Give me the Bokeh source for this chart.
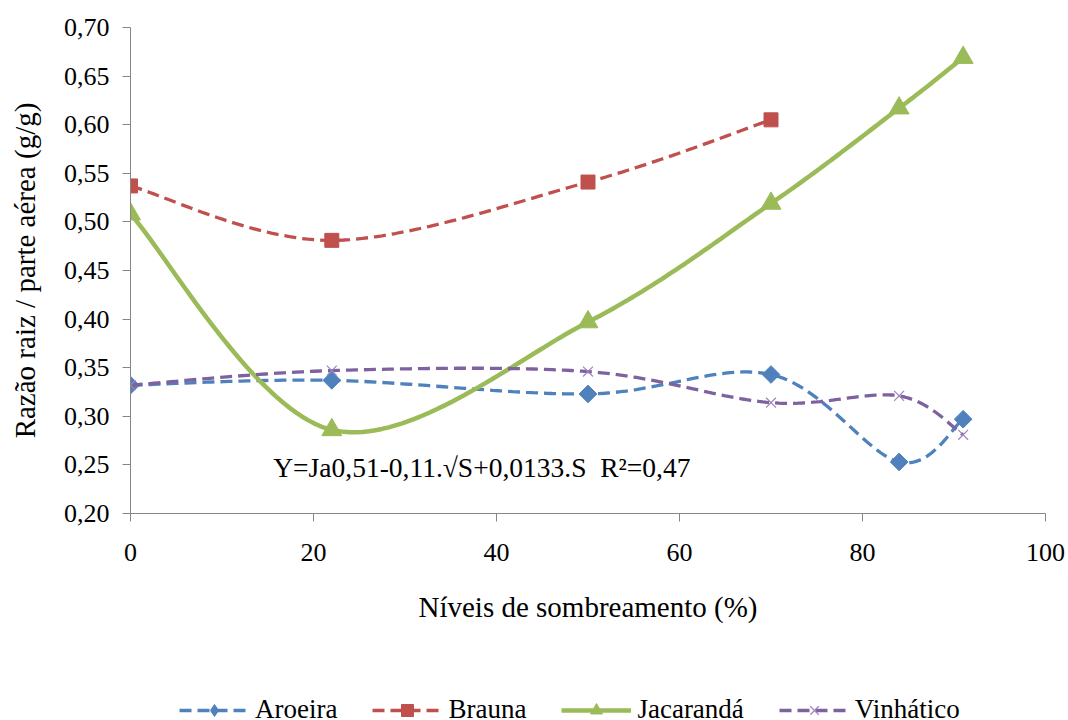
import numpy as np
from bokeh.plotting import figure
from bokeh.layouts import column
from bokeh.models import FixedTicker, Legend, LegendItem, Label, Range1d
from bokeh.embed import file_html
from bokeh.resources import INLINE

# ---- data ----
shade = [0, 22, 50, 70, 84, 91]
shade_brauna = [0, 22, 50, 70]
aroeira = [0.332, 0.337, 0.323, 0.343, 0.253, 0.297]
brauna = [0.537, 0.481, 0.541, 0.605]
jacaranda = [0.508, 0.286, 0.397, 0.519, 0.617, 0.669]
vinhatico = [0.332, 0.347, 0.346, 0.314, 0.321, 0.281]

series_names = ["Aroeira", "Brauna", "Jacarandá", "Vinhático"]

x_ticks = [0, 20, 40, 60, 80, 100]
x_tick_labels = ["0", "20", "40", "60", "80", "100"]
y_ticks = [0.20, 0.25, 0.30, 0.35, 0.40, 0.45, 0.50, 0.55, 0.60, 0.65, 0.70]
y_tick_labels = ["0,20", "0,25", "0,30", "0,35", "0,40", "0,45", "0,50",
                 "0,55", "0,60", "0,65", "0,70"]

equation = "Y=Ja0,51-0,11.\u221aS+0,0133.S \u00a0R\u00b2=0,47"

FONT = "Liberation Serif"


def smooth(xs, ys, n=40):
    """Excel-style smoothed line (Bezier through the points)."""
    P = np.column_stack([xs, ys]).astype(float)
    m = len(P)
    t = np.linspace(0, 1, n)[1:][:, None]
    pts = [P[0][None, :]]
    for i in range(m - 1):
        p0 = P[i - 1] if i > 0 else P[i]
        p1 = P[i]
        p2 = P[i + 1]
        p3 = P[i + 2] if i + 2 < m else P[i + 1]
        c1 = p1 + (p2 - p0) / 6.0
        c2 = p2 - (p3 - p1) / 6.0
        b = ((1 - t) ** 3) * p1 + 3 * ((1 - t) ** 2) * t * c1 + 3 * (1 - t) * t ** 2 * c2 + t ** 3 * p2
        pts.append(b)
    A = np.vstack(pts)
    return A[:, 0], A[:, 1]


p = figure(width=1068, height=660, output_backend="svg", toolbar_location=None,
           x_range=Range1d(0, 100), y_range=Range1d(0.2, 0.7),
           min_border_left=130, min_border_right=23, min_border_top=27,
           min_border_bottom=147)
p.outline_line_color = None
p.xgrid.visible = False
p.ygrid.visible = False
p.background_fill_color = "white"
p.border_fill_color = "white"

AX = "#868686"
for ax in (p.xaxis[0], p.yaxis[0]):
    ax.axis_line_color = AX
    ax.major_tick_line_color = AX
    ax.major_tick_out = 8
    ax.major_tick_in = 0
    ax.minor_tick_line_color = None
    ax.major_label_text_font = FONT
    ax.major_label_text_font_size = "26px"
    ax.major_label_text_color = "black"
    ax.axis_label_text_font = FONT
    ax.axis_label_text_font_size = "29px"
    ax.axis_label_text_font_style = "normal"
    ax.axis_label_text_color = "black"

p.xaxis.ticker = FixedTicker(ticks=x_ticks)
p.xaxis.major_label_overrides = {t: l for t, l in zip(x_ticks, x_tick_labels)}
p.yaxis.ticker = FixedTicker(ticks=y_ticks)
p.yaxis.major_label_overrides = {t: l for t, l in zip(y_ticks, y_tick_labels)}
p.xaxis.axis_label = "Níveis de sombreamento (%)"
p.yaxis.axis_label = "Razão raiz / parte aérea (g/g)"
p.xaxis.major_label_standoff = 22
p.yaxis.major_label_standoff = 13
p.xaxis.axis_label_standoff = 27
p.yaxis.axis_label_standoff = 20

C_A = "#4F81BD"
C_B = "#C0504D"
C_J = "#9BBB59"
C_V = "#7E62A0"
C_VX = "#9B85BD"
DASH = "12 6"
LW = 3.3

styles = [
    dict(color=C_A, lw=LW, dash=DASH, marker="square", angle=np.pi / 4, size=12.5, fill=C_A, mline=C_A, mlw=1, lmarker="diamond"),
    dict(color=C_B, lw=LW, dash=DASH, marker="square", angle=0.0, size=14, fill=C_B, mline=C_B, mlw=1, lmarker="square"),
    dict(color=C_J, lw=4.5, dash="solid", marker="triangle", angle=0.0, size=20, fill=C_J, mline=C_J, mlw=1, lmarker="triangle"),
    dict(color=C_V, lw=LW, dash=DASH, marker="x", angle=0.0, size=14, fill=None, mline=C_VX, mlw=1.2, lmarker="x"),
]
xs_list = [shade, shade_brauna, shade, shade]
ys_list = [aroeira, brauna, jacaranda, vinhatico]

for xs, ys, st in zip(xs_list, ys_list, styles):
    sx, sy = smooth(xs, ys)
    p.line(sx, sy, line_color=st["color"], line_width=st["lw"], line_dash=st["dash"])
    p.scatter(xs, ys, marker=st["marker"], angle=st["angle"], size=st["size"],
              fill_color=st["fill"], line_color=st["mline"], line_width=st["mlw"])

p.add_layout(Label(x=15.6, y=0.247, text=equation, text_font=FONT,
                   text_font_size="27.5px", text_color="black",
                   text_baseline="alphabetic", text_align="left"))

# ---- legend strip below the chart (its frame is aligned with the chart's) ----
# the series are drawn again here only as legend sources; the view range
# keeps them out of sight.
lg = figure(width=1068, height=60, output_backend="svg", toolbar_location=None,
            x_range=Range1d(1000, 1001), y_range=Range1d(1000, 1001),
            min_border_left=0, min_border_right=0, min_border_top=0,
            min_border_bottom=0)
lg.xaxis.visible = False
lg.yaxis.visible = False
lg.xgrid.visible = False
lg.ygrid.visible = False
lg.outline_line_color = None
lg.background_fill_color = "white"
lg.border_fill_color = "white"

items = []
for name, xs, ys, st in zip(series_names, xs_list, ys_list, styles):
    lr = lg.line(xs, ys, line_color=st["color"], line_width=st["lw"], line_dash=st["dash"])
    mr = lg.scatter(xs, ys, marker=st["lmarker"], size=st["size"],
                    fill_color=st["fill"], line_color=st["mline"], line_width=st["mlw"])
    items.append(LegendItem(label=name, renderers=[lr, mr]))

legend = Legend(items=items, orientation="horizontal", location=(49, -5),
                label_text_font=FONT, label_text_font_size="27px",
                label_text_color="black",
                glyph_width=70, glyph_height=30, label_standoff=6, spacing=35,
                padding=0, margin=0, border_line_color=None,
                background_fill_alpha=0)
lg.add_layout(legend, "center")

layout = column(p, lg, spacing=0)
open("out.html", "w").write(file_html(layout, INLINE))
